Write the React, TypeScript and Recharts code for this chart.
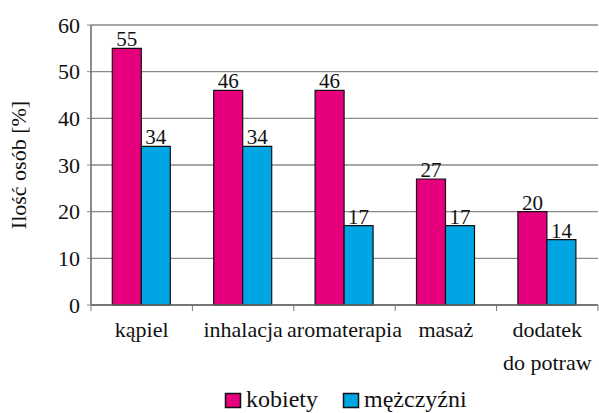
import { BarChart, Bar, XAxis, YAxis, CartesianGrid, Legend, LabelList } from 'recharts';

const categories = ['kąpiel', 'inhalacja', 'aromaterapia', 'masaż', 'dodatek\ndo potraw'];
const kobiety = [55, 46, 46, 27, 20];
const mezczyzni = [34, 34, 17, 17, 14];
const yTicks = [0, 10, 20, 30, 40, 50, 60];

const data = categories.map((name, i) => ({ name, kobiety: kobiety[i], mezczyzni: mezczyzni[i] }));

const FONT = 'Liberation Serif';
const TXT = { fontFamily: FONT };
const PINK = '#E6007E';
const CYAN = '#00A6E4';

const CategoryTick = (props: any) => {
  const { x, y, payload, index } = props;
  const half = 507 / categories.length / 2;
  const lines = String(payload.value).split('\n');
  return (
    <g>
      <line x1={x - half} y1={y - 8} x2={x - half} y2={y - 2} stroke="#777" />
      {index === categories.length - 1 && (
        <line x1={x + half} y1={y - 8} x2={x + half} y2={y - 2} stroke="#777" />
      )}
      {lines.map((l: string, k: number) => (
        <text key={k} x={x} y={y + 24 + k * 33} textAnchor="middle" fill="#111" fontSize={22} style={TXT}>
          {l}
        </text>
      ))}
    </g>
  );
};

const LegendBox = () => (
  <svg width={599} height={28} style={{ display: 'block' }}>
    <rect x={225.5} y={8.5} width={15} height={14} fill={PINK} stroke="#111" strokeWidth={1.5} />
    <text x={246} y={22} fontSize={24} style={TXT} fill="#111">kobiety</text>
    <rect x={343.5} y={8.5} width={15} height={14} fill={CYAN} stroke="#111" strokeWidth={1.5} />
    <text x={364} y={22} fontSize={24} style={TXT} fill="#111">mężczyźni</text>
  </svg>
);

export default function App() {
  return (
    <div style={{ position: 'absolute', left: 0, top: 0, background: '#fff', fontFamily: FONT }}>
      <BarChart
        width={599}
        height={413}
        data={data}
        margin={{ top: 25, right: 1, left: 0, bottom: 0 }}
        barCategoryGap="21%"
        barGap={0}
        style={TXT}
      >
        <CartesianGrid vertical={false} stroke="#8a8a8a" strokeWidth={1.3} />
        <XAxis
          dataKey="name"
          axisLine={{ stroke: '#666', strokeWidth: 1.5 }}
          tickLine={false}
          interval={0}
          height={80}
          tick={<CategoryTick />}
        />
        <YAxis
          width={91}
          domain={[0, 60]}
          ticks={yTicks}
          axisLine={{ stroke: '#666', strokeWidth: 1.5 }}
          tickLine={{ stroke: '#888' }}
          tickSize={4}
          tick={{ fill: '#111', fontSize: 22, style: TXT, dx: -5 }}
          label={{
            value: 'Ilość osób [%]',
            angle: -90,
            position: 'insideLeft',
            offset: 18,
            style: { textAnchor: 'middle', fill: '#111', fontSize: 22, fontFamily: FONT },
          }}
        />
        <Legend verticalAlign="bottom" height={28} content={<LegendBox />} />
        <Bar dataKey="kobiety" fill={PINK} stroke="#111" strokeWidth={1.2} isAnimationActive={false}>
          <LabelList dataKey="kobiety" position="top" offset={2} fill="#111" fontSize={21} style={TXT} />
        </Bar>
        <Bar dataKey="mezczyzni" fill={CYAN} stroke="#111" strokeWidth={1.2} isAnimationActive={false}>
          <LabelList dataKey="mezczyzni" position="top" offset={2} fill="#111" fontSize={21} style={TXT} />
        </Bar>
      </BarChart>
    </div>
  );
}
